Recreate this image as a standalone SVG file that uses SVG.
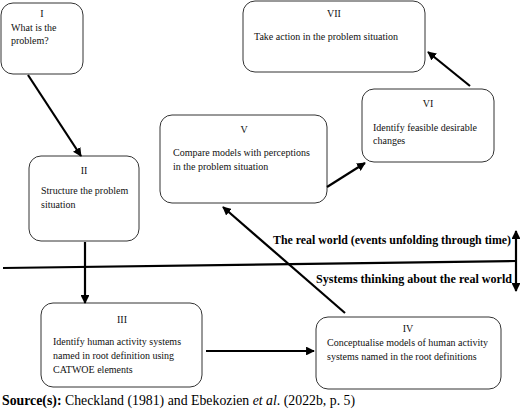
<svg xmlns="http://www.w3.org/2000/svg" width="520" height="414" viewBox="0 0 520 414">
<style>
.box{fill:#fff;stroke:#333;stroke-width:1}
.t{font-family:"Liberation Serif","Times New Roman",serif;font-size:10px;fill:#111}
.c{text-anchor:middle}
.b{font-family:"Liberation Serif","Times New Roman",serif;font-size:11.5px;font-weight:bold;fill:#000}
.s{font-family:"Liberation Serif","Times New Roman",serif;font-size:13.8px;fill:#000}
.ln{stroke:#000;stroke-width:2.2;fill:none}
</style>
<defs>
<marker id="ah" viewBox="0 0 10 10" refX="9" refY="5" markerWidth="4" markerHeight="4" orient="auto-start-reverse">
<path d="M0,0 L10,5 L0,10 z" fill="#000"/>
</marker>
</defs>
<rect width="520" height="414" fill="#fff"/>
<g id="node-I"><rect class="box" x="1" y="3" width="82" height="71" rx="12"/>
<text class="t c" x="42" y="17">I</text>
<text class="t" x="11" y="31">What is the</text>
<text class="t" x="11" y="44">problem?</text></g>
<g id="node-II"><rect class="box" x="29" y="156" width="110" height="85" rx="12"/>
<text class="t c" x="84" y="174">II</text>
<text class="t" x="41" y="194">Structure the problem</text>
<text class="t" x="41" y="208">situation</text></g>
<g id="node-III"><rect class="box" x="41" y="303" width="161" height="84" rx="12"/>
<text class="t c" x="122" y="323">III</text>
<text class="t" x="53" y="345">Identify human activity systems</text>
<text class="t" x="53" y="359">named in root definition using</text>
<text class="t" x="53" y="373">CATWOE elements</text></g>
<g id="node-IV"><rect class="box" x="316" y="317" width="185" height="72" rx="12"/>
<text class="t c" x="408" y="332">IV</text>
<text class="t" x="327" y="346">Conceptualise models of human activity</text>
<text class="t" x="327" y="360">systems named in the root definitions</text></g>
<g id="node-V"><rect class="box" x="160" y="115" width="167" height="88" rx="12"/>
<text class="t c" x="244" y="133">V</text>
<text class="t" x="173" y="156">Compare models with perceptions</text>
<text class="t" x="173" y="170">in the problem situation</text></g>
<g id="node-VI"><rect class="box" x="362" y="89" width="132" height="73" rx="12"/>
<text class="t c" x="428" y="107">VI</text>
<text class="t" x="373" y="131">Identify feasible desirable</text>
<text class="t" x="373" y="144">changes</text></g>
<g id="node-VII"><rect class="box" x="243" y="1" width="182" height="71" rx="12"/>
<text class="t c" x="334" y="17">VII</text>
<text class="t" x="254" y="40">Take action in the problem situation</text></g>
<g id="connectors">
<line class="ln" x1="28" y1="75" x2="81" y2="156" marker-end="url(#ah)"/>
<line class="ln" x1="85" y1="242" x2="85" y2="303" marker-end="url(#ah)"/>
<line class="ln" x1="206" y1="351" x2="314" y2="351" marker-end="url(#ah)"/>
<line class="ln" x1="345" y1="313" x2="223" y2="207" marker-end="url(#ah)"/>
<line class="ln" x1="327" y1="187" x2="365" y2="163" marker-end="url(#ah)"/>
<line class="ln" x1="470" y1="86" x2="428" y2="52" marker-end="url(#ah)"/>
<line class="ln" x1="3" y1="268" x2="516" y2="261"/>
<line class="ln" x1="516" y1="231" x2="516" y2="291" stroke-width="2" marker-start="url(#ah)" marker-end="url(#ah)"/>
</g>
<text class="b" x="273" y="244" textLength="238" lengthAdjust="spacingAndGlyphs">The real world (events unfolding through time)</text>
<text class="b" x="316" y="283" textLength="196" lengthAdjust="spacingAndGlyphs">Systems thinking about the real world</text>
<text class="s" x="2" y="405"><tspan font-weight="bold">Source(s):</tspan> Checkland (1981) and Ebekozien <tspan font-style="italic">et al</tspan>. (2022b, p. 5)</text>
</svg>
